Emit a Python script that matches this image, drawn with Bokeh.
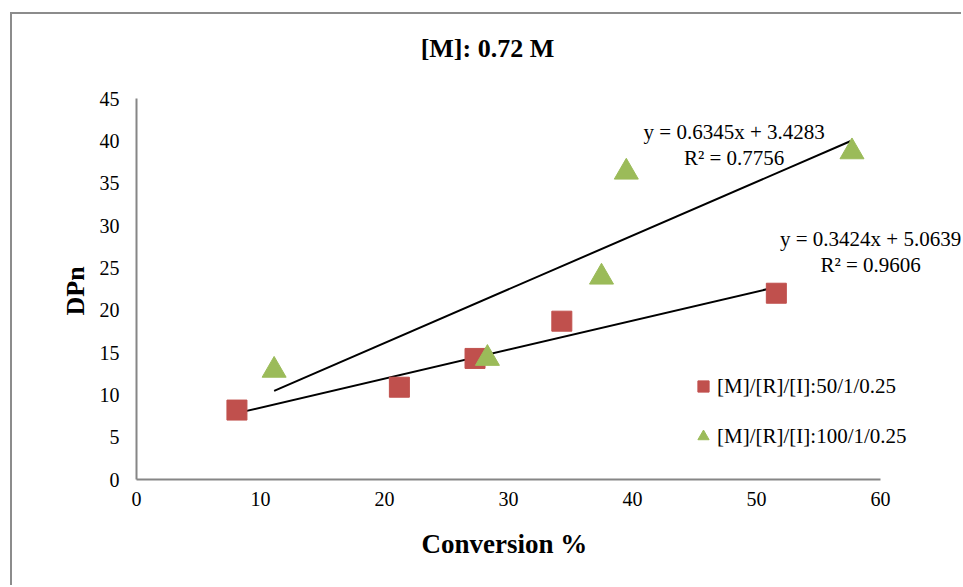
from bokeh.plotting import figure
from bokeh.models import Range1d, Label, Legend, LegendItem, FixedTicker, Title
from bokeh.embed import file_html
from bokeh.resources import INLINE

# ---- data ----
title_text = "[M]: 0.72 M"
x_label = "Conversion %"
y_label = "DPn"
series_labels = ["[M]/[R]/[I]:50/1/0.25", "[M]/[R]/[I]:100/1/0.25"]

conv_50 = [8.1, 21.2, 27.3, 34.3, 51.6]
dpn_50 = [8.2, 10.9, 14.3, 18.7, 22.0]

conv_100 = [11.1, 28.3, 37.5, 39.5, 57.7]
dpn_100 = [12.9, 14.3, 23.9, 36.3, 38.7]

# linear trendlines shown in the chart: slope, intercept, R^2
fit_50 = (0.3424, 5.0639, 0.9606)
fit_100 = (0.6345, 3.4283, 0.7756)

x_ticks = [0, 10, 20, 30, 40, 50, 60]
y_ticks = [0, 5, 10, 15, 20, 25, 30, 35, 40, 45]

RED = "#C0504D"
GREEN = "#9BBB59"
AXIS_GREY = "#868686"
SERIF = "Liberation Serif"

# ---- layout geometry (pixels) ----
W, H = 951, 573          # figure content size (border + margin take the rest)
ORG_X, ORG_Y = 12, 14    # page position of the figure content
AX_L, AX_R = 136, 880    # page x of x=0 and x=60
AX_B, AX_T = 479, 98     # page y of y=0 and y=45
FRAME_L = AX_L - ORG_X
FRAME_B = ORG_Y + H - AX_B
px_per_x = (AX_R - AX_L) / (x_ticks[-1] - x_ticks[0])
px_per_y = (AX_B - AX_T) / (y_ticks[-1] - y_ticks[0])
x_end = x_ticks[-1] + (ORG_X + W - AX_R) / px_per_x
y_end = y_ticks[-1] + (AX_T - ORG_Y) / px_per_y

p = figure(width=W, height=H, output_backend="svg", toolbar_location=None,
           x_range=Range1d(x_ticks[0], x_end),
           y_range=Range1d(y_ticks[0], y_end),
           min_border_left=FRAME_L, min_border_right=0,
           min_border_top=0, min_border_bottom=FRAME_B)
p.margin = (12, 0, 0, 10)
p.styles = {"border-top": "2px solid #8c8c8c", "border-left": "2px solid #8c8c8c"}
p.outline_line_color = None
p.background_fill_color = "white"
p.border_fill_color = "white"
p.grid.grid_line_color = None

for ax in (p.xaxis[0], p.yaxis[0]):
    ax.axis_line_color = AXIS_GREY
    ax.axis_line_width = 2
    ax.major_tick_line_color = None
    ax.minor_tick_line_color = None
    ax.major_tick_out = 0
    ax.major_tick_in = 0
    ax.major_label_text_font = SERIF
    ax.major_label_text_font_size = "20px"
    ax.major_label_text_color = "black"

p.xaxis[0].ticker = FixedTicker(ticks=x_ticks)
p.yaxis[0].ticker = FixedTicker(ticks=y_ticks)
p.xaxis[0].bounds = (x_ticks[0], x_ticks[-1])
p.yaxis[0].bounds = (y_ticks[0], y_ticks[-1])
p.xaxis[0].major_label_standoff = 12
p.yaxis[0].major_label_standoff = 17

# axis titles placed beside the axes, aligned to the plotted span
p.add_layout(Title(text=x_label, align="left", offset=285, standoff=40,
                   vertical_align="top",
                   text_font=SERIF, text_font_size="27px", text_font_style="bold",
                   text_color="black"), "below")
p.add_layout(Title(text=y_label, align="left", offset=164, standoff=14,
                   text_font=SERIF, text_font_size="26px", text_font_style="bold",
                   text_color="black"), "left")

# trend lines over each series' x span
def trend(xs, fit):
    x0, x1 = min(xs), max(xs)
    return [x0, x1], [fit[0] * x0 + fit[1], fit[0] * x1 + fit[1]]

tx, ty = trend(conv_100, fit_100)
p.line(tx, ty, line_color="black", line_width=2)
tx, ty = trend(conv_50, fit_50)
p.line(tx, ty, line_color="black", line_width=2)

r50 = p.scatter(conv_50, dpn_50, marker="square", size=20,
                fill_color=RED, line_color=RED)
r100 = p.scatter(conv_100, dpn_100, marker="triangle", size=24,
                 fill_color=GREEN, line_color=GREEN)

# equation labels
def eq_text(fit):
    return "y = %.4fx + %.4f\nR² = %.4f" % fit

p.add_layout(Label(x=48.2, y=39.5, text=eq_text(fit_100), text_align="center",
                   text_baseline="middle", text_font=SERIF, text_font_size="21px",
                   text_color="black", text_line_height=1.1))
p.add_layout(Label(x=59.2, y=26.9, text=eq_text(fit_50), text_align="center",
                   text_baseline="middle", text_font=SERIF, text_font_size="21px",
                   text_color="black", text_line_height=1.1))

# chart title
p.add_layout(Label(x=28.3, y=50.9, text=title_text, text_align="center",
                   text_baseline="middle", text_font=SERIF, text_font_size="26px",
                   text_font_style="bold", text_color="black"))

legend = Legend(items=[LegendItem(label=series_labels[0], renderers=[r50]),
                       LegendItem(label=series_labels[1], renderers=[r100])],
                location=(553, 29), orientation="vertical",
                glyph_width=28, glyph_height=28, label_height=28,
                spacing=22, label_standoff=0, padding=0, margin=0,
                border_line_color=None, background_fill_alpha=0,
                label_text_font=SERIF, label_text_font_size="21px",
                label_text_color="black")
p.add_layout(legend)

open("out.html", "w").write(file_html(p, INLINE))
